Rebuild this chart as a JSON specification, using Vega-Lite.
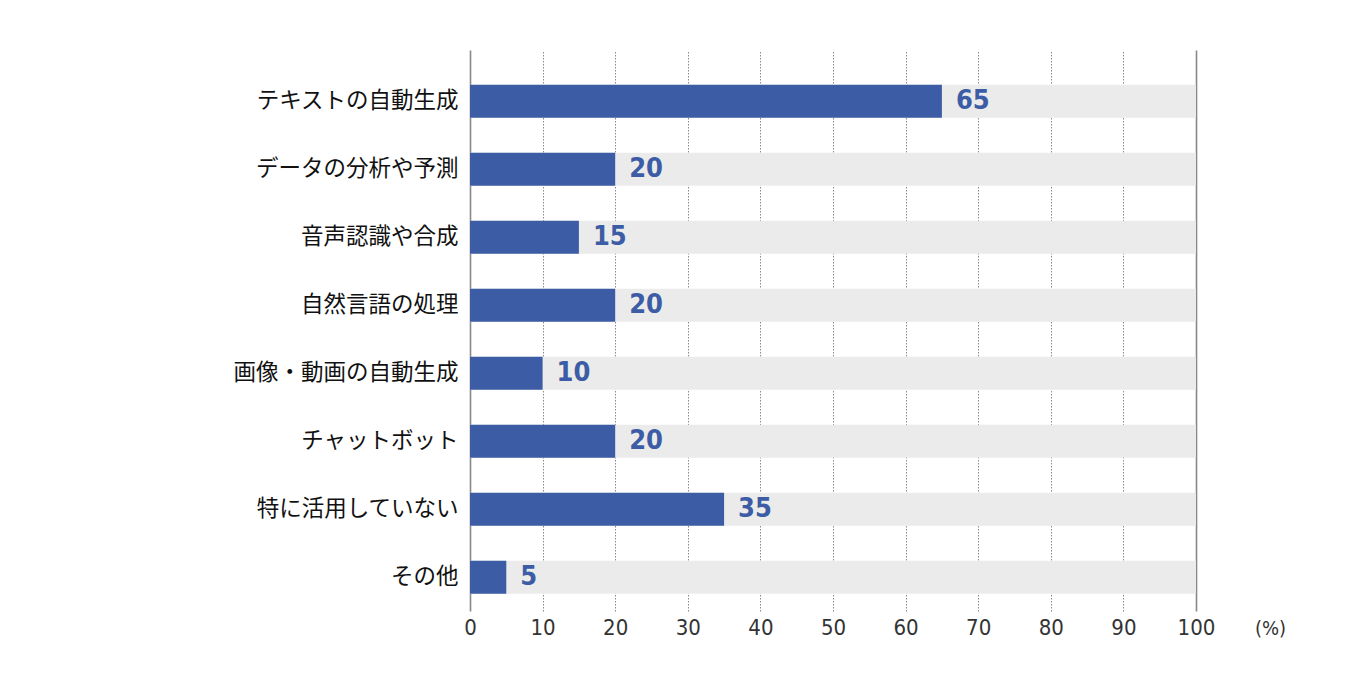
{
  "$schema": "https://vega.github.io/schema/vega-lite/v6.json",
  "width": 726,
  "height": 561,
  "autosize": "none",
  "padding": {"left": 470, "top": 50, "right": 150, "bottom": 74},
  "background": "white",
  "data": {
    "values": [
      {"item": "テキストの自動生成", "pct": 65, "full": 100},
      {"item": "データの分析や予測", "pct": 20, "full": 100},
      {"item": "音声認識や合成", "pct": 15, "full": 100},
      {"item": "自然言語の処理", "pct": 20, "full": 100},
      {"item": "画像・動画の自動生成", "pct": 10, "full": 100},
      {"item": "チャットボット", "pct": 20, "full": 100},
      {"item": "特に活用していない", "pct": 35, "full": 100},
      {"item": "その他", "pct": 5, "full": 100}
    ]
  },
  "encoding": {
    "y": {
      "field": "item",
      "type": "nominal",
      "sort": null,
      "title": null,
      "scale": {"paddingInner": 0.515, "paddingOuter": 0.382, "align": 0.667},
      "axis": {
        "domain": false,
        "ticks": false,
        "labelPadding": 12,
        "labelLimit": 0,
        "labelFont": "Noto Sans CJK JP",
        "labelFontSize": 22.5,
        "labelColor": "#111111"
      }
    }
  },
  "layer": [
    {
      "mark": {"type": "bar", "color": "#ebebeb"},
      "encoding": {
        "x": {
          "field": "full",
          "type": "quantitative",
          "scale": {"domain": [0, 100], "nice": false},
          "title": "(%)",
          "axis": {
            "values": [0, 10, 20, 30, 40, 50, 60, 70, 80, 90, 100],
            "domain": false,
            "ticks": false,
            "tickSize": 0,
            "labelFlush": false,
            "labelPadding": 6,
            "labelFont": "DejaVu Sans Condensed",
            "labelFontSize": 22,
            "labelColor": "#333333",
            "grid": true,
            "gridColor": {"condition": {"test": "datum.value === 0 || datum.value === 100", "value": "#888888"}, "value": "#8a8a8a"},
            "gridDash": {"condition": {"test": "datum.value === 0 || datum.value === 100", "value": []}, "value": [1.5, 1.5]},
            "gridWidth": {"condition": {"test": "datum.value === 0 || datum.value === 100", "value": 1.6}, "value": 1},
            "titleFont": "DejaVu Sans Condensed",
            "titleFontWeight": "normal",
            "titleFontSize": 20,
            "titleColor": "#333333",
            "titleX": 800,
            "titleY": 17,
            "titleBaseline": "middle",
            "titleAlign": "center"
          }
        }
      }
    },
    {
      "mark": {"type": "bar", "color": "#3c5da5"},
      "encoding": {
        "x": {"field": "pct", "type": "quantitative"}
      }
    },
    {
      "mark": {
        "type": "text",
        "align": "left",
        "baseline": "middle",
        "dx": 14,
        "font": "DejaVu Sans Condensed",
        "fontWeight": "bold",
        "fontSize": 27,
        "color": "#3c5da5"
      },
      "encoding": {
        "x": {"field": "pct", "type": "quantitative"},
        "text": {"field": "pct", "type": "quantitative"}
      }
    }
  ],
  "config": {"view": {"stroke": null}}
}
